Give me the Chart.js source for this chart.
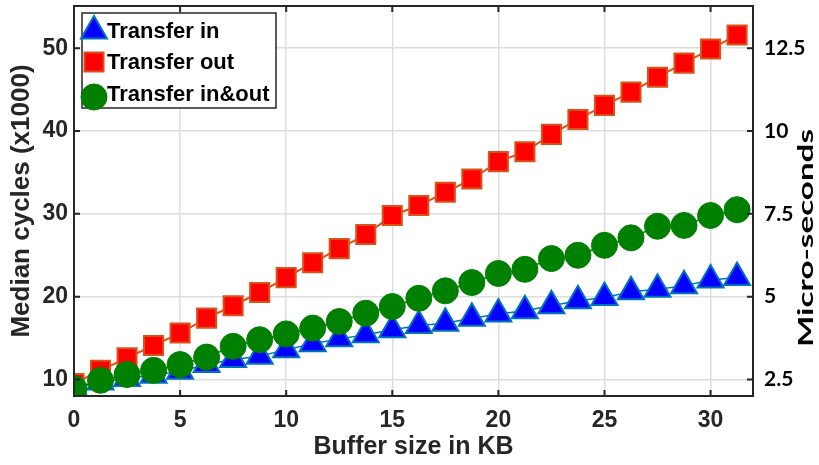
<!DOCTYPE html>
<html>
<head>
<meta charset="utf-8">
<title>Transfer cycles by buffer size</title>
<script src="https://cdn.jsdelivr.net/npm/chart.js@4/dist/chart.umd.min.js"></script>
<style>
  html, body { margin: 0; padding: 0; background: #fff; }
  #chart { display: block; }
</style>
</head>
<body>
<canvas id="chart" width="819" height="465"></canvas>
<script>
// Buffer sizes (KB) for each measurement
const bufferSizes = [0, 1.25, 2.5, 3.75, 5, 6.25, 7.5, 8.75, 10, 11.25, 12.5, 13.75, 15, 16.25,
  17.5, 18.75, 20, 21.25, 22.5, 23.75, 25, 26.25, 27.5, 28.75, 30, 31.25];

// Median cycles (x1000)
const transferIn = [8.9, 9.7, 10.1, 10.5, 11.0, 11.8, 12.4, 12.8, 13.6, 14.3, 14.9, 15.4, 16.0,
  16.5, 16.8, 17.4, 17.9, 18.3, 18.9, 19.5, 19.9, 20.6, 20.9, 21.3, 22.0, 22.3];
const transferOut = [9.5, 11.1, 12.6, 14.1, 15.6, 17.4, 18.9, 20.5, 22.3, 24.1, 25.8, 27.5, 29.8,
  31.0, 32.6, 34.2, 36.3, 37.5, 39.6, 41.4, 43.1, 44.7, 46.5, 48.2, 49.9, 51.6];
const transferInOut = [8.9, 9.9, 10.6, 11.1, 11.8, 12.7, 14.0, 14.8, 15.5, 16.2, 17.0, 18.0, 18.8,
  19.8, 20.7, 21.7, 22.8, 23.3, 24.6, 25.0, 26.2, 27.1, 28.5, 28.6, 29.8, 30.5];

const seriesNames = ['Transfer in', 'Transfer out', 'Transfer in&out'];

// Axis ticks
const xTicks = [0, 5, 10, 15, 20, 25, 30];
const cycleTicks = [10, 20, 30, 40, 50];
const microTicks = [2.5, 5, 7.5, 10, 12.5];
const microTickLabels = ['2.5', '5', '7.5', '10', '12.5'];

// 1000 cycles = 0.25 micro-seconds
const CYCLES_PER_US = 4;
const Y_MIN = 8;
const Y_MAX = 55.1;

const AXIS_COLOR = '#262626';
const TICK_FONT = { family: 'Liberation Sans, Arial, sans-serif', size: 23, weight: 'bold' };

function toPoints(values) {
  return values.map((v, i) => ({ x: bufferSizes[i], y: v }));
}

// fixed axis sizes, no extra room for the end labels
function fixWidth(w) {
  return scale => {
    scale.width = w;
    scale.paddingTop = 0;
    scale.paddingBottom = 0;
  };
}

// Box around the plot area with inward tick marks (matlab style)
const axesBox = {
  id: 'axesBox',
  afterDatasetsDraw(chart) {
    const { ctx, chartArea: a, scales } = chart;
    const len = 6;
    ctx.save();
    ctx.strokeStyle = AXIS_COLOR;
    ctx.lineWidth = 2;
    ctx.beginPath();
    scales.x.ticks.forEach(t => {
      const px = scales.x.getPixelForValue(t.value);
      ctx.moveTo(px, a.bottom); ctx.lineTo(px, a.bottom - len);
      ctx.moveTo(px, a.top); ctx.lineTo(px, a.top + len);
    });
    scales.y.ticks.forEach(t => {
      const py = scales.y.getPixelForValue(t.value);
      ctx.moveTo(a.left, py); ctx.lineTo(a.left + len, py);
    });
    scales.y2.ticks.forEach(t => {
      const py = scales.y2.getPixelForValue(t.value);
      ctx.moveTo(a.right, py); ctx.lineTo(a.right - len, py);
    });
    ctx.stroke();
    ctx.strokeRect(a.left, a.top, a.right - a.left, a.bottom - a.top);
    ctx.restore();
  }
};

// Legend box drawn inside the top-left corner of the plot
const insideLegend = {
  id: 'insideLegend',
  afterDraw(chart) {
    const { ctx } = chart;
    const box = { x: 82, y: 13, w: 194, h: 95 };
    const rows = [31, 62, 94];
    ctx.save();
    ctx.fillStyle = '#fff';
    ctx.fillRect(box.x, box.y, box.w, box.h);
    ctx.strokeStyle = '#262626';
    ctx.lineWidth = 1.5;
    ctx.strokeRect(box.x, box.y, box.w, box.h);
    chart.data.datasets.forEach((ds, i) => {
      ctx.fillStyle = ds.pointBackgroundColor;
      ctx.strokeStyle = ds.pointBorderColor;
      ctx.lineWidth = ds.pointBorderWidth;
      Chart.helpers.drawPoint(ctx, {
        pointStyle: ds.pointStyle,
        radius: ds.pointRadius,
        rotation: 0,
        borderWidth: ds.pointBorderWidth
      }, 94, rows[i] + (ds.pointStyle === 'circle' ? 3 : 0));
      ctx.fillStyle = '#000';
      ctx.font = 'bold 22px "Liberation Sans", Arial, sans-serif';
      ctx.textBaseline = 'middle';
      ctx.textAlign = 'left';
      ctx.fillText(ds.label, 107, rows[i] + 1);
    });
    ctx.restore();
  }
};

// Title of the right-hand axis, stretched along its length
const rightTitle = {
  id: 'rightTitle',
  afterDraw(chart) {
    const { ctx } = chart;
    const text = 'Micro-seconds';
    ctx.save();
    ctx.font = 'bold 21px Lato, "Open Sans", sans-serif';
    const w = ctx.measureText(text).width;
    ctx.translate(806, 238);
    ctx.rotate(-Math.PI / 2);
    ctx.scale(218 / w, 1);
    ctx.fillStyle = '#000';
    ctx.textAlign = 'center';
    ctx.textBaseline = 'middle';
    ctx.fillText(text, 0, 0);
    ctx.restore();
  }
};

const ctx = document.getElementById('chart').getContext('2d');

new Chart(ctx, {
  type: 'line',
  data: {
    datasets: [{
      label: seriesNames[0],
      data: toPoints(transferIn),
      borderColor: '#0072BD',
      borderWidth: 1.5,
      pointStyle: 'triangle',
      pointRadius: 15,
      pointBackgroundColor: '#0000FF',
      pointBorderColor: '#0072BD',
      pointBorderWidth: 2,
      order: 2
    }, {
      label: seriesNames[1],
      data: toPoints(transferOut),
      borderColor: '#D95319',
      borderWidth: 2,
      pointStyle: 'rect',
      pointRadius: 13.5,
      pointBackgroundColor: '#FF0000',
      pointBorderColor: '#D95319',
      pointBorderWidth: 2,
      order: 1
    }, {
      label: seriesNames[2],
      data: toPoints(transferInOut),
      borderColor: '#008000',
      borderWidth: 1.5,
      pointStyle: 'circle',
      pointRadius: 13,
      pointBackgroundColor: '#008000',
      pointBorderColor: '#008000',
      pointBorderWidth: 1,
      order: 0
    }]
  },
  options: {
    responsive: false,
    animation: false,
    layout: { autoPadding: false, padding: { top: 6, left: 0, right: 0, bottom: 0 } },
    elements: { line: { tension: 0, fill: false } },
    plugins: {
      legend: { display: false },
      tooltip: { enabled: false }
    },
    scales: {
      x: {
        type: 'linear',
        min: 0,
        max: 32,
        afterBuildTicks: scale => { scale.ticks = xTicks.map(v => ({ value: v })); },
        afterFit: scale => {
          scale.height = 69;
          scale.paddingLeft = 0;
          scale.paddingRight = 0;
        },
        grid: { color: '#dedede', lineWidth: 1.5, drawTicks: false },
        border: { display: false },
        ticks: { color: AXIS_COLOR, font: TICK_FONT, padding: 11, maxRotation: 0 },
        title: {
          display: true,
          text: 'Buffer size in KB',
          color: AXIS_COLOR,
          font: { family: 'Liberation Sans, Arial, sans-serif', size: 25, weight: 'bold' },
          padding: { top: 0, bottom: 3 }
        }
      },
      y: {
        position: 'left',
        min: Y_MIN,
        max: Y_MAX,
        afterBuildTicks: scale => { scale.ticks = cycleTicks.map(v => ({ value: v })); },
        afterFit: fixWidth(74),
        grid: { color: '#dedede', lineWidth: 1.5, drawTicks: false },
        border: { display: false },
        ticks: { color: AXIS_COLOR, font: TICK_FONT, padding: 6 },
        title: {
          display: true,
          text: 'Median cycles (x1000)',
          color: AXIS_COLOR,
          font: { family: 'Liberation Sans, Arial, sans-serif', size: 26, weight: 'bold' },
          padding: { top: 6, bottom: 0 }
        }
      },
      y2: {
        position: 'right',
        min: Y_MIN / CYCLES_PER_US,
        max: Y_MAX / CYCLES_PER_US,
        afterBuildTicks: scale => { scale.ticks = microTicks.map(v => ({ value: v })); },
        afterFit: fixWidth(66),
        grid: { display: false, drawTicks: false },
        border: { display: false },
        ticks: {
          color: '#000',
          font: { family: 'Lato, "Open Sans", sans-serif', size: 21, weight: 'bold' },
          padding: 11,
          callback: (value, i) => microTickLabels[i]
        }
      }
    }
  },
  plugins: [axesBox, insideLegend, rightTitle]
});
</script>
</body>
</html>
